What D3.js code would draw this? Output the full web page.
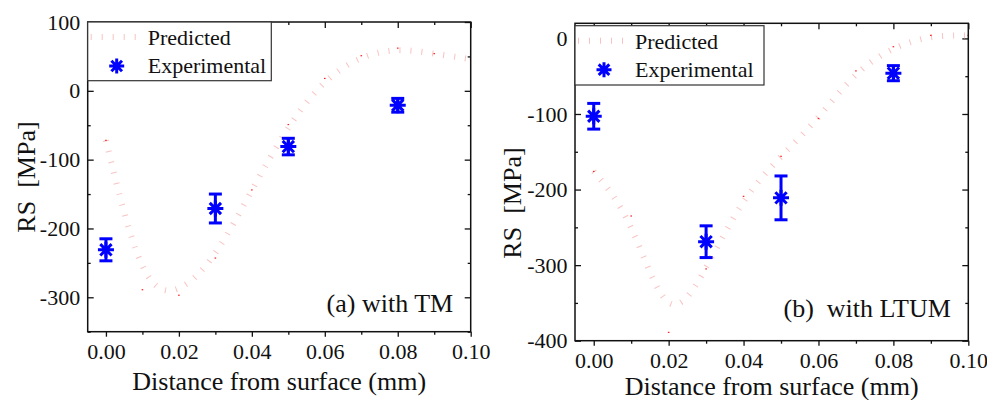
<!DOCTYPE html>
<html>
<head>
<meta charset="utf-8">
<script src="https://cdn.jsdelivr.net/npm/d3@7.9.0/dist/d3.min.js"></script>
<style>
  body { margin: 0; background: #fff; }
  svg { display: block; }
  svg text { font-family: 'Liberation Serif', 'Times New Roman', serif; fill: #111; }
</style>
</head>
<body>
<svg id="chart" width="987" height="400"></svg>
<script>
// distance grid for the predicted curves (mm)
const xGrid = [0, 0.01, 0.02, 0.03, 0.04, 0.05, 0.06, 0.07, 0.08, 0.09, 0.1];
const predictedTM = [-72, -289, -297, -243, -144, -49, 18, 51, 62, 54, 46];
const predictedLTUM = [-176, -235, -389, -305, -209, -156, -106, -43, -11, 4, 4];

// measured points
const expX = [0, 0.03, 0.05, 0.08];
const expTM = [-231, -171, -81, -21];
const errTM = [16, 21, 12, 10];
const expLTUM = [-103, -269, -211, -46];
const errLTUM = [17, 21, 29, 10];

const xTicks = [0, 0.02, 0.04, 0.06, 0.08, 0.1];
const xMinor = [0.01, 0.03, 0.05, 0.07, 0.09];
const yTicksTM = [-300, -200, -100, 0, 100];
const yMinorTM = [-350, -250, -150, -50, 50];
const yTicksLTUM = [-400, -300, -200, -100, 0];
const yMinorLTUM = [-350, -250, -150, -50];

const svg = d3.select('#chart');
const serif = "'Liberation Serif', 'Times New Roman', serif";

const panels = [
  {
    box: { x0: 87.7, x1: 470.7, y0: 22, y1: 331.7 },
    yDomain: [-350, 100], yTicks: yTicksTM, yMinor: yMinorTM,
    pred: predictedTM, exp: expTM, err: errTM,
    label: '(a) with TM', labelY: 311.5, xTitleY: 390,
    yTitle: { x: 35, y: 177 },
    legend: { x: 87.7, y: 22, w: 183.6, h: 58.7 }
  },
  {
    box: { x0: 575, x1: 968.3, y0: 23.3, y1: 340.7 },
    yDomain: [-400, 20], yTicks: yTicksLTUM, yMinor: yMinorLTUM,
    pred: predictedLTUM, exp: expLTUM, err: errLTUM,
    label: '(b)  with LTUM', labelY: 316.5, xTitleY: 395,
    yTitle: { x: 521, y: 203 },
    legend: { x: 575, y: 25.7, w: 189, h: 59.3 }
  }
];

const fmtX = d3.format('.2f');
const fmtY = (d) => String(d);

panels.forEach((p, i) => {
  const b = p.box;
  const x = d3.scaleLinear().domain([-0.005, 0.1]).range([b.x0, b.x1]);
  const y = d3.scaleLinear().domain(p.yDomain).range([b.y1, b.y0]);
  const g = svg.append('g');

  // axes: bottom ticks point out, the other three point in
  g.append('g').attr('transform', `translate(0,${b.y1})`)
    .call(d3.axisBottom(x).tickValues(xTicks).tickFormat(fmtX).tickSizeInner(5).tickSizeOuter(0).tickPadding(7));
  g.append('g').attr('transform', `translate(0,${b.y1})`)
    .call(d3.axisBottom(x).tickValues(xMinor).tickFormat('').tickSizeInner(3).tickSizeOuter(0));
  g.append('g').attr('transform', `translate(0,${b.y0})`)
    .call(d3.axisTop(x).tickValues(xTicks).tickFormat('').tickSizeInner(-6).tickSizeOuter(0));
  g.append('g').attr('transform', `translate(0,${b.y0})`)
    .call(d3.axisTop(x).tickValues(xMinor).tickFormat('').tickSizeInner(-3).tickSizeOuter(0));
  g.append('g').attr('transform', `translate(${b.x0},0)`)
    .call(d3.axisLeft(y).tickValues(p.yTicks).tickFormat(fmtY).tickSizeInner(-6).tickSizeOuter(0).tickPadding(7.5));
  g.append('g').attr('transform', `translate(${b.x0},0)`)
    .call(d3.axisLeft(y).tickValues(p.yMinor).tickFormat('').tickSizeInner(-3).tickSizeOuter(0));
  g.append('g').attr('transform', `translate(${b.x1},0)`)
    .call(d3.axisRight(y).tickValues(p.yTicks).tickFormat('').tickSizeInner(-6).tickSizeOuter(0));
  g.append('g').attr('transform', `translate(${b.x1},0)`)
    .call(d3.axisRight(y).tickValues(p.yMinor).tickFormat('').tickSizeInner(-3).tickSizeOuter(0));

  g.selectAll('.domain').remove();
  g.selectAll('.tick line').attr('stroke', '#111').attr('stroke-width', 1.3);
  g.selectAll('.tick text').attr('font-family', serif).attr('font-size', 22).attr('fill', '#111');

  // predicted curve (clipped)
  const clipId = `clip${i}`;
  svg.append('clipPath').attr('id', clipId)
    .append('rect').attr('x', b.x0).attr('y', b.y0).attr('width', b.x1 - b.x0).attr('height', b.y1 - b.y0);

  const line = d3.line().x((d, k) => x(xGrid[k])).y((d) => y(d)).curve(d3.curveBasis);
  const cg = g.append('g').attr('clip-path', `url(#${clipId})`);
  cg.append('path').attr('d', line(p.pred))
    .attr('fill', 'none').attr('stroke', '#f7a8a8').attr('stroke-opacity', 0.7)
    .attr('stroke-width', 6).attr('stroke-dasharray', '1 10');
  cg.selectAll('rect.dot').data(p.pred).join('rect').attr('class', 'dot')
    .attr('x', (d, k) => x(xGrid[k]) - 0.8).attr('y', (d) => y(d) - 0.6)
    .attr('width', 1.6).attr('height', 1.2).attr('fill', '#ff2020');

  // experimental points
  const blue = '#0000ff';
  const eg = g.append('g').attr('stroke', blue).attr('stroke-width', 3).attr('fill', 'none');
  p.exp.forEach((v, k) => {
    const cx = x(expX[k]);
    const top = y(v + p.err[k]);
    const bot = y(v - p.err[k]);
    eg.append('line').attr('x1', cx).attr('x2', cx).attr('y1', top).attr('y2', bot);
    eg.append('line').attr('x1', cx - 6.5).attr('x2', cx + 6.5).attr('y1', top).attr('y2', top);
    eg.append('line').attr('x1', cx - 6.5).attr('x2', cx + 6.5).attr('y1', bot).attr('y2', bot);
    eg.append('path').attr('d', starPath(cx, y(v), 8));
  });

  // frame
  g.append('rect').attr('x', b.x0).attr('y', b.y0).attr('width', b.x1 - b.x0).attr('height', b.y1 - b.y0)
    .attr('fill', 'none').attr('stroke', '#111').attr('stroke-width', 1.5);

  // legend
  const L = p.legend;
  const lg = g.append('g');
  lg.append('rect').attr('x', L.x).attr('y', L.y).attr('width', L.w).attr('height', L.h)
    .attr('fill', '#fff').attr('stroke', '#333').attr('stroke-width', 1.2);
  lg.append('line').attr('x1', L.x + 3).attr('x2', L.x + 48).attr('y1', L.y + 15).attr('y2', L.y + 15)
    .attr('stroke', '#f7a8a8').attr('stroke-opacity', 0.7).attr('stroke-width', 6).attr('stroke-dasharray', '1 10');
  lg.append('path').attr('d', starPath(L.x + 29, L.y + 44, 7.5))
    .attr('stroke', blue).attr('stroke-width', 3).attr('fill', 'none');
  lg.append('text').attr('x', L.x + 60).attr('y', L.y + 23).attr('font-size', 22).text('Predicted');
  lg.append('text').attr('x', L.x + 60).attr('y', L.y + 51).attr('font-size', 22).text('Experimental');

  // panel label
  g.append('text').attr('x', b.x1 - 17.5).attr('y', p.labelY).attr('text-anchor', 'end')
    .attr('font-size', 26).style('white-space', 'pre').text(p.label);

  // axis titles
  g.append('text').attr('x', (b.x0 + b.x1) / 2).attr('y', p.xTitleY).attr('text-anchor', 'middle')
    .attr('font-size', 26).text('Distance from surface (mm)');
  g.append('text').attr('transform', `translate(${p.yTitle.x},${p.yTitle.y}) rotate(-90)`)
    .attr('text-anchor', 'middle').attr('font-size', 26).style('white-space', 'pre').text('RS  [MPa]');
});

function starPath(cx, cy, r) {
  const d = r * Math.SQRT1_2;
  return `M${cx - r},${cy}H${cx + r}M${cx},${cy - r}V${cy + r}` +
    `M${cx - d},${cy - d}L${cx + d},${cy + d}M${cx - d},${cy + d}L${cx + d},${cy - d}`;
}
</script>
</body>
</html>
